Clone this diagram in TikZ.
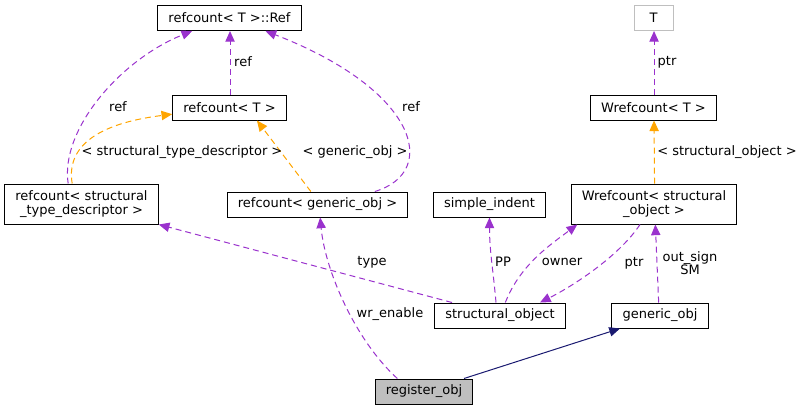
\documentclass[tikz,border=0pt]{standalone}
\usepackage{fontspec}
\setmainfont{DejaVu Sans}
\usetikzlibrary{positioning, arrows.meta}
\definecolor{usepurple}{HTML}{9A32CD}
\definecolor{tmplorange}{HTML}{FFA500}
\definecolor{basenavy}{HTML}{191970}
\tikzset{every node/.style={ % Same font everywhere
font=\fontsize{9.75}{10}\selectfont},
cls/.style={ % Sets the properties for each class box
draw, line width=0.75pt, inner xsep=8pt, inner ysep=0pt,
minimum height=18.75pt, align=center},
lbl/.style={inner sep=0pt, align=center}, % Labels on the connectors
usage/.style={ % Member used by a class
draw=usepurple, line width=0.75pt, dash pattern=on 4.5pt off 3pt,
-{Triangle[length=8pt,width=7pt]}},
tmpl/.style={ % Template instance
usage, draw=tmplorange},
inherit/.style={ % Public base class
draw=basenavy, line width=0.75pt,
-{Triangle[length=8pt,width=7pt]}}}

\begin{document}
\begin{tikzpicture}[x=0.75pt, y=-0.75pt]
    \useasboundingbox (0,0) rectangle (803,411);

    \node[cls] (ref) at (229.5,18) {refcount< T >::Ref};
    \node[cls] (rct) at (229.5,107.5) {refcount< T >};
    \node[cls, minimum height=30pt] (rcstd) at (81.5,204) {refcount< structural\\\_type\_descriptor >};
    \node[cls] (rcgen) at (317.5,204.5) {refcount< generic\_obj >};
    \node[cls] (indent) at (489.5,204.5) {simple\_indent};
    \node[cls, minimum height=30pt] (wso) at (654,204) {Wrefcount< structural\\\_object >};
    \node[cls] (wt) at (653.5,107.5) {Wrefcount< T >};
    \node[cls, draw=gray!50, minimum width=29.25pt] (t) at (653.5,18) {T};
    \node[cls] (so) at (500,315.5) {structural\_object};
    \node[cls] (gen) at (660,315.5) {generic\_obj};
    \node[cls, fill=gray!50] (reg) at (424,391.5) {register\_obj};

    \draw[usage] ([xshift=0.4pt]rct.north) -- ([xshift=0.4pt]ref.south);
    \draw[usage] ([xshift=-10pt]rcstd.north) .. controls (60,130) and (120,60) .. ([xshift=-28pt]ref.south);
    \draw[usage] ([xshift=43pt]rcgen.north) .. controls (440,172) and (418,90) .. ([xshift=27pt]ref.south);
    \draw[tmpl] ([xshift=-7pt]rcstd.north) .. controls (65,140) and (110,122) .. ([yshift=-5pt]rct.west);
    \draw[tmpl] ([xshift=-5pt]rcgen.north) -- ([xshift=20.6pt]rct.south);
    \draw[tmpl] ([xshift=0.4pt]wso.north) -- ([xshift=0.4pt]wt.south);
    \draw[usage] ([xshift=0.4pt]wt.north) -- ([xshift=0.4pt]t.south);
    \draw[usage] ([xshift=-36pt]so.north) -- (rcstd.south east);
    \draw[usage] ([xshift=-20pt]reg.north) .. controls (355,340) and (325,270) .. ([xshift=2pt]rcgen.south);
    \draw[usage] ([xshift=-3pt]so.north) to[out=95, in=-90] (indent.south);
    \draw[usage] ([xshift=4pt]so.north) .. controls (520,265) and (550,245) .. ([xshift=5pt]wso.south west);
    \draw[usage] ([xshift=-10.5pt]wso.south) .. controls (620,255) and (575,285) .. ([xshift=30pt]so.north);
    \draw[usage] ([xshift=-1pt]gen.north) -- ([xshift=1pt]wso.south);
    \draw[inherit] ([xshift=30pt]reg.north) -- ([xshift=-30pt]gen.south);

    \node[lbl] (lrefa) at (118,107) {ref};
    \node[lbl] (lrefb) at (243,62) {ref};
    \node[lbl] (lrefc) at (411,107) {ref};
    \node[lbl] (lstd) at (182,152) {< structural\_type\_descriptor >};
    \node[lbl] (lgen) at (355,152) {< generic\_obj >};
    \node[lbl] (lptra) at (667,62) {ptr};
    \node[lbl] (lso) at (727,152) {< structural\_object >};
    \node[lbl] (ltype) at (372,262) {type};
    \node[lbl] (lwr) at (390,314) {wr\_enable};
    \node[lbl] (lpp) at (503,262) {PP};
    \node[lbl] (lowner) at (562,262) {owner};
    \node[lbl] (lptrb) at (634,263) {ptr};
    \node[lbl] (lout) at (690,263) {out\_sign\\SM};

\end{tikzpicture}
\end{document}
